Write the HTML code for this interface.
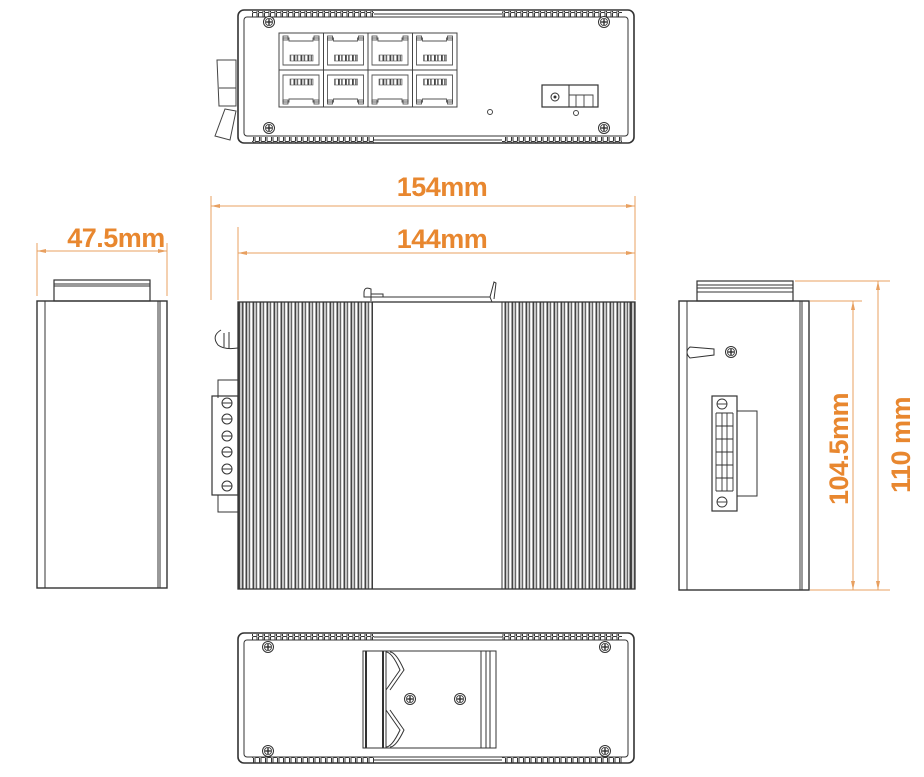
<!DOCTYPE html>
<html><head><meta charset="utf-8"><style>
html,body{margin:0;padding:0;background:#fff;width:924px;height:777px;overflow:hidden}
svg{display:block}
.t{font-family:"Liberation Sans",sans-serif;font-size:27px;fill:#E8872F;font-weight:600;letter-spacing:-0.5px}
</style></head><body>
<svg width="924" height="777" viewBox="0 0 924 777" xmlns="http://www.w3.org/2000/svg">
<defs>
<pattern id="fin" x="0" y="0" width="7" height="10" patternUnits="userSpaceOnUse">
<rect x="0.5" y="0" width="1.8" height="10" fill="#444"/><rect x="3.6" y="0" width="1.6" height="10" fill="#666"/>
</pattern>
<pattern id="ser" x="0" y="0" width="6" height="6" patternUnits="userSpaceOnUse">
<path d="M0.5,6 V1.5 Q0.5,0.5 2,0.5 H4 Q5,0.5 5,1.5 V6" fill="none" stroke="#333" stroke-width="1"/>
</pattern>
<g id="screw"><circle r="5.5" fill="#fff" stroke="#333" stroke-width="1"/><circle r="3.6" fill="none" stroke="#333" stroke-width="0.8"/><path d="M-3,0H3M0,-3V3" stroke="#222" stroke-width="1.3"/></g>
<g id="rj"><rect x="0" y="0" width="44.5" height="37" fill="#fff" stroke="#444" stroke-width="1"/><path d="M4,5 H10 V8 H34 V5 H40 V32 H4 Z" fill="none" stroke="#555" stroke-width="0.9"/><rect x="4" y="3" width="5" height="4" fill="none" stroke="#444" stroke-width="0.8"/><rect x="35" y="3" width="5" height="4" fill="none" stroke="#444" stroke-width="0.8"/><rect x="11" y="22" width="23" height="6" fill="url(#fin)" stroke="#555" stroke-width="0.6"/></g>
</defs>

<!-- ===== TOP VIEW ===== -->
<g stroke="#333" fill="none">
<rect x="238" y="10" width="396" height="133" rx="6" stroke-width="1.6"/>
<rect x="244" y="17" width="384" height="119" rx="3" stroke-width="1"/>
</g>
<rect x="252" y="11" width="122" height="6" fill="url(#ser)"/>
<rect x="502" y="11" width="120" height="6" fill="url(#ser)"/>
<rect x="252" y="137" width="122" height="6" fill="url(#ser)" transform="rotate(180 313 140)"/>
<rect x="502" y="137" width="120" height="6" fill="url(#ser)" transform="rotate(180 562 140)"/>
<line x1="374" y1="14" x2="502" y2="14" stroke="#333"/><line x1="374" y1="140" x2="502" y2="140" stroke="#333"/>
<use href="#screw" x="269" y="22"/><use href="#screw" x="604" y="22"/><use href="#screw" x="269" y="128"/><use href="#screw" x="604" y="128"/>
<use href="#rj" x="279" y="33"/><use href="#rj" x="323.5" y="33"/><use href="#rj" x="368" y="33"/><use href="#rj" x="412.5" y="33"/>
<g transform="translate(0,140) scale(1,-1)"><use href="#rj" x="279" y="33"/><use href="#rj" x="323.5" y="33"/><use href="#rj" x="368" y="33"/><use href="#rj" x="412.5" y="33"/></g>
<circle cx="490" cy="112" r="2.5" fill="none" stroke="#444"/><circle cx="576" cy="113" r="2.5" fill="none" stroke="#444"/>
<rect x="542" y="85" width="56" height="22" fill="none" stroke="#333" stroke-width="1.2"/>
<line x1="569" y1="85" x2="569" y2="107" stroke="#333"/>
<circle cx="555" cy="97" r="4" fill="none" stroke="#333"/><circle cx="555" cy="97" r="1.5" fill="#333"/>
<path d="M569,95 H576 V107 M576,95 H584 V107 M584,95 H593 V107" fill="none" stroke="#444" stroke-width="0.9"/>
<path d="M217,60 H236 V106 H219 Z M219,88 H236" fill="none" stroke="#444"/>
<path d="M225,109 L236,111 L230,140 L215,136 Z" fill="none" stroke="#444"/>

<!-- ===== DIMENSIONS ===== -->
<g stroke="#E8A060" stroke-width="1" fill="none">
<line x1="211" y1="196" x2="211" y2="300"/><line x1="635" y1="196" x2="635" y2="300"/>
<line x1="211" y1="206" x2="635" y2="206"/>
<line x1="238" y1="227" x2="238" y2="300"/>
<line x1="238" y1="253" x2="635" y2="253"/>
<line x1="37" y1="243" x2="37" y2="296"/><line x1="167" y1="243" x2="167" y2="296"/>
<line x1="37" y1="251" x2="167" y2="251"/>
<line x1="795" y1="281" x2="890" y2="281"/><line x1="810" y1="301" x2="862" y2="301"/><line x1="810" y1="590" x2="890" y2="590"/>
<line x1="853" y1="301" x2="853" y2="590"/><line x1="878" y1="281" x2="878" y2="590"/>
</g>
<g fill="#E8A060">
<path d="M635,206 l-9,-2 v4z M211,206 l9,-2 v4z M238,253 l9,-2 v4z M635,253 l-9,-2 v4z M37,251 l9,-2 v4z M167,251 l-9,-2 v4z"/>
<path d="M853,301 l-2,9 h4z M853,590 l-2,-9 h4z M878,281 l-2,9 h4z M878,590 l-2,-9 h4z"/>
</g>
<text class="t" x="442" y="196" text-anchor="middle">154mm</text>
<text class="t" x="442" y="248" text-anchor="middle">144mm</text>
<text class="t" x="116" y="247" text-anchor="middle">47.5mm</text>
<text class="t" transform="translate(848,449) rotate(-90)" text-anchor="middle">104.5mm</text>
<text class="t" transform="translate(910,445) rotate(-90)" text-anchor="middle">110 mm</text>

<!-- ===== LEFT SIDE VIEW ===== -->
<g stroke="#333" fill="none">
<rect x="54" y="280" width="96" height="21" stroke-width="1.2"/>
<line x1="54" y1="284" x2="150" y2="284"/><line x1="54" y1="286" x2="150" y2="286"/>
<rect x="37" y="301" width="130" height="287" stroke-width="1.4"/>
<line x1="45" y1="301" x2="45" y2="588"/><line x1="158" y1="301" x2="158" y2="588"/><line x1="160" y1="301" x2="160" y2="588"/>
</g>

<!-- ===== FRONT VIEW ===== -->
<rect x="238" y="302" width="135" height="287" fill="url(#fin)"/>
<rect x="502" y="302" width="133" height="287" fill="url(#fin)"/>
<g stroke="#333" fill="none">
<rect x="238" y="302" width="397" height="287" stroke-width="1.3"/>
<line x1="372" y1="302" x2="372" y2="589"/><line x1="502" y1="302" x2="502" y2="589"/>
<line x1="243" y1="302" x2="243" y2="589"/><line x1="630" y1="302" x2="630" y2="589"/>
<path d="M371,301 V289 Q364,286 364,293 V297 H383 V294 H371" />
<path d="M383,297 H490 L492,302 M490,297 L494,282 L496,283 L494,299"/>
<path d="M221,330 Q211,336 218,345 Q224,350 238,348 M224,333 V347 M229,332 V348"/>
<path d="M238,380 H218 V398 M218,495 V512 H238"/>
<rect x="212" y="396" width="26" height="99" stroke-width="1.2"/>
</g>
<g stroke="#333" fill="#fff">
<circle cx="227" cy="403" r="5"/><circle cx="227" cy="419" r="5"/><circle cx="227" cy="436" r="5"/><circle cx="227" cy="452" r="5"/><circle cx="227" cy="469" r="5"/><circle cx="227" cy="486" r="5"/>
</g>
<g stroke="#333"><path d="M222,403h10M222,419h10M222,436h10M222,452h10M222,469h10M222,486h10"/></g>

<!-- ===== RIGHT SIDE VIEW ===== -->
<g stroke="#333" fill="none">
<rect x="697" y="281" width="96" height="20" stroke-width="1.2"/>
<line x1="697" y1="285" x2="793" y2="285"/><line x1="697" y1="288" x2="793" y2="288"/><line x1="697" y1="292" x2="793" y2="292"/>
<rect x="679" y="301" width="130" height="289" stroke-width="1.4"/>
<line x1="687" y1="301" x2="687" y2="590"/><line x1="800" y1="301" x2="800" y2="590"/><line x1="802" y1="301" x2="802" y2="590"/>
<path d="M690,347 Q684,352 690,358 L714,355 V349 Z"/>
<rect x="737" y="411" width="20" height="85"/>
<rect x="712" y="396" width="25" height="115" stroke-width="1.2"/>
</g>
<use href="#screw" x="731" y="352"/>
<g stroke="#333" fill="none" stroke-width="0.9">
<circle cx="722" cy="404" r="5"/><line x1="717" y1="404" x2="727" y2="404"/>
<circle cx="722" cy="502" r="5"/><line x1="717" y1="502" x2="727" y2="502"/>
<path d="M716,413h17M716,426h17M716,439h17M716,452h17M716,465h17M716,478h17M716,491h17"/>
<path d="M716,413v78M722,413v78M727,413v78M733,413v78"/>
</g>

<!-- ===== BOTTOM VIEW ===== -->
<g stroke="#333" fill="none">
<rect x="238" y="633" width="396" height="130" rx="6" stroke-width="1.6"/>
<rect x="244" y="640" width="384" height="117" rx="3"/>
</g>
<rect x="252" y="634" width="122" height="6" fill="url(#ser)"/>
<rect x="502" y="634" width="120" height="6" fill="url(#ser)"/>
<rect x="252" y="757" width="122" height="6" fill="url(#ser)" transform="rotate(180 313 760)"/>
<rect x="502" y="757" width="120" height="6" fill="url(#ser)" transform="rotate(180 562 760)"/>
<line x1="374" y1="637" x2="502" y2="637" stroke="#333"/><line x1="374" y1="760" x2="502" y2="760" stroke="#333"/>
<g stroke="#333" fill="none">
<rect x="363" y="651" width="133" height="97"/>
<line x1="366" y1="651" x2="366" y2="748" stroke-width="2"/>
<line x1="383" y1="651" x2="383" y2="748" stroke-width="2"/>
<line x1="386" y1="651" x2="386" y2="748"/>
<line x1="481" y1="651" x2="481" y2="748"/><line x1="486" y1="651" x2="486" y2="748"/><line x1="490" y1="651" x2="490" y2="748"/>
<path d="M386,652 Q392,652 400,670 L386,690 M386,710 L400,730 Q392,747 386,747"/>
<path d="M390,652 Q396,652 404,670 L390,690 M390,710 L404,730 Q396,747 390,747"/>
</g>
<use href="#screw" x="268" y="647"/><use href="#screw" x="605" y="647"/><use href="#screw" x="268" y="751"/><use href="#screw" x="605" y="751"/>
<use href="#screw" x="410" y="699"/><use href="#screw" x="460" y="699"/>
</svg>
</body></html>
